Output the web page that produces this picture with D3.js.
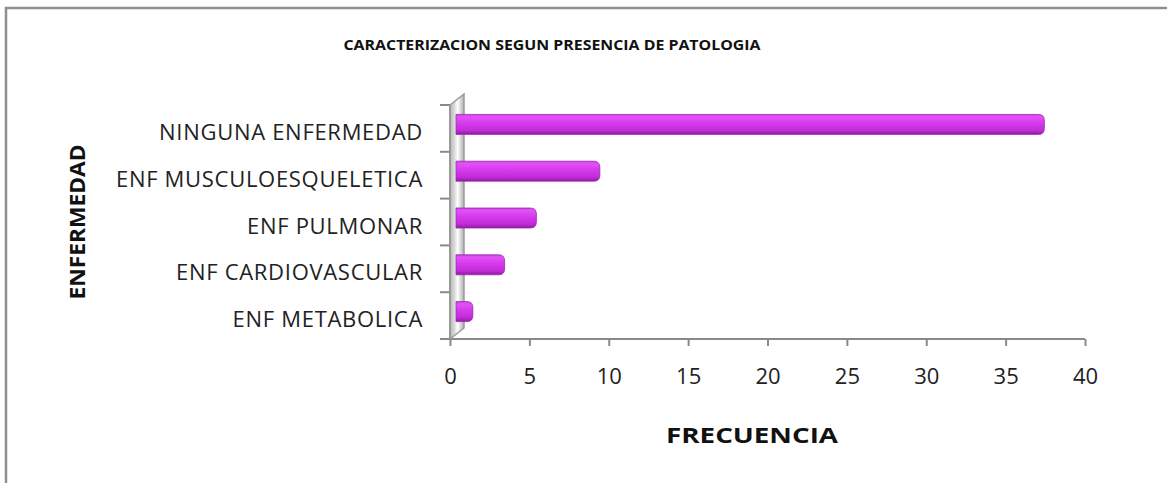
<!DOCTYPE html>
<html>
<head>
<meta charset="utf-8">
<script src="https://cdn.jsdelivr.net/npm/d3@7"></script>
<style>
body { margin: 0; background: #fff; }
svg { display: block; font-family: "Open Sans", sans-serif; }
</style>
</head>
<body>
<script>
//chart data
var categories = ["NINGUNA ENFERMEDAD", "ENF MUSCULOESQUELETICA", "ENF PULMONAR", "ENF CARDIOVASCULAR", "ENF METABOLICA"];
var frecuencia = [37, 9, 5, 3, 1];
var xTicks = [0, 5, 10, 15, 20, 25, 30, 35, 40];
var chartTitle = "CARACTERIZACION SEGUN PRESENCIA DE PATOLOGIA";
var xTitle = "FRECUENCIA";
var yTitle = "ENFERMEDAD";

//begin script when window loads
window.onload = drawChart;

function drawChart(){
    var width = 1167,
        height = 483;

    var svg = d3.select("body")
        .append("svg")
        .attr("width", width)
        .attr("height", height);

    //depth of the 3d back wall
    var depthX = 14,
        depthY = -11;

    //front plane scales
    var x = d3.scaleLinear()
        .domain([0, 40])
        .range([450, 1085]);

    var y = d3.scaleBand()
        .domain(categories)
        .range([105, 339]);

    var defs = svg.append("defs");

    //bar gradient (cylinder look)
    var barGrad = defs.append("linearGradient")
        .attr("id", "barGrad")
        .attr("x1", 0).attr("y1", 0).attr("x2", 0).attr("y2", 1);
    [["0%", "#c93fe0"], ["12%", "#e352f7"], ["45%", "#d439ea"], ["80%", "#c22cd8"], ["100%", "#8c1b9f"]]
        .forEach(function(s){
            barGrad.append("stop").attr("offset", s[0]).attr("stop-color", s[1]);
        });

    //wall gradient
    var wallGrad = defs.append("linearGradient")
        .attr("id", "wallGrad")
        .attr("x1", 0).attr("y1", 0).attr("x2", 1).attr("y2", 0);
    [["0%", "#b8b8b8"], ["30%", "#d8d8d8"], ["55%", "#ffffff"], ["80%", "#d0d0d0"], ["100%", "#b0b0b0"]]
        .forEach(function(s){
            wallGrad.append("stop").attr("offset", s[0]).attr("stop-color", s[1]);
        });

    //outer chart border
    svg.append("rect")
        .attr("x", 6)
        .attr("y", 8)
        .attr("width", 1400)
        .attr("height", 700)
        .attr("fill", "none")
        .attr("stroke", "#8f8f8f")
        .attr("stroke-width", 2.5);

    //title
    svg.append("text")
        .attr("x", 552)
        .attr("y", 50)
        .attr("text-anchor", "middle")
        .attr("font-size", 15)
        .attr("font-weight", "bold")
        .attr("textLength", 417)
        .attr("lengthAdjust", "spacingAndGlyphs")
        .attr("fill", "#111")
        .text(chartTitle);

    //3d side wall
    var x0 = x(0),
        yTop = y.range()[0],
        yBot = y.range()[1];
    svg.append("path")
        .attr("d", "M" + x0 + "," + yTop +
                   "L" + (x0 + depthX) + "," + (yTop + depthY) +
                   "L" + (x0 + depthX) + "," + (yBot + depthY) +
                   "L" + x0 + "," + yBot + "Z")
        .attr("fill", "url(#wallGrad)")
        .attr("stroke", "#9a9a9a")
        .attr("stroke-width", 1.5);

    //y ticks
    var yEdges = categories.map(function(c){ return y(c); }).concat([yBot]);
    svg.selectAll(".ytick")
        .data(yEdges)
        .enter()
        .append("line")
        .attr("class", "ytick")
        .attr("x1", x0 - 10)
        .attr("x2", x0)
        .attr("y1", function(d){ return d; })
        .attr("y2", function(d){ return d; })
        .attr("stroke", "#8a8a8a")
        .attr("stroke-width", 2);

    //x axis
    var xAxis = d3.axisBottom(x)
        .tickValues(xTicks)
        .tickSize(7)
        .tickPadding(22)
        .tickFormat(d3.format("d"));

    var gx = svg.append("g")
        .attr("transform", "translate(0," + yBot + ")")
        .call(xAxis);
    gx.select(".domain")
        .attr("stroke", "#8a8a8a")
        .attr("stroke-width", 2)
        .attr("d", "M" + x0 + ",0H" + x(40));
    gx.selectAll(".tick line")
        .attr("stroke", "#8a8a8a")
        .attr("stroke-width", 2);
    gx.selectAll(".tick text")
        .attr("font-size", 22)
        .attr("font-family", "Open Sans, sans-serif")
        .attr("fill", "#222");

    //front left post of the wall
    svg.append("line")
        .attr("x1", x0).attr("x2", x0)
        .attr("y1", yTop).attr("y2", yBot)
        .attr("stroke", "#9a9a9a")
        .attr("stroke-width", 2);

    //bars, placed at mid depth
    var barH = 20,
        r = 6,
        bx = depthX / 2,
        by = -4;
    svg.selectAll(".bar")
        .data(frecuencia)
        .enter()
        .append("path")
        .attr("class", "bar")
        .attr("d", function(d, i){
            var left = x(0) + bx - 1,
                right = x(d) + bx,
                top = y(categories[i]) + y.bandwidth() / 2 + by - barH / 2,
                bot = top + barH;
            return "M" + left + "," + top +
                   "H" + (right - r) +
                   "Q" + right + "," + top + " " + right + "," + (top + r) +
                   "V" + (bot - r) +
                   "Q" + right + "," + bot + " " + (right - r) + "," + bot +
                   "H" + left + "Z";
        })
        .attr("fill", "url(#barGrad)")
        .attr("stroke", "#9a2cae")
        .attr("stroke-width", 0.8);

    //category labels
    svg.selectAll(".cat")
        .data(categories)
        .enter()
        .append("text")
        .attr("class", "cat")
        .attr("x", 423)
        .attr("y", function(d){ return y(d) + y.bandwidth() / 2 + 11.5; })
        .attr("text-anchor", "end")
        .attr("font-size", 22)
        .attr("letter-spacing", 0.7)
        .attr("fill", "#222")
        .text(function(d){ return d; });

    //axis titles
    svg.append("text")
        .attr("x", 752)
        .attr("y", 443)
        .attr("text-anchor", "middle")
        .attr("font-size", 21)
        .attr("font-weight", "bold")
        .attr("textLength", 172)
        .attr("lengthAdjust", "spacingAndGlyphs")
        .attr("fill", "#111")
        .text(xTitle);

    svg.append("text")
        .attr("transform", "translate(85,222) rotate(-90)")
        .attr("text-anchor", "middle")
        .attr("font-size", 22)
        .attr("font-weight", "bold")
        .attr("textLength", 155)
        .attr("lengthAdjust", "spacingAndGlyphs")
        .attr("fill", "#111")
        .text(yTitle);
}
</script>
</body>
</html>
